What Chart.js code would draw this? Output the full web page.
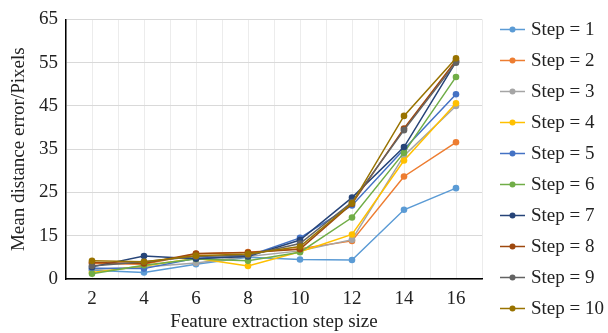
<!DOCTYPE html>
<html>
<head>
<meta charset="utf-8">
<script src="https://cdn.jsdelivr.net/npm/chart.js@4/dist/chart.umd.min.js"></script>
<style>
  html, body { margin: 0; padding: 0; background: #fff; }
  #wrap { width: 608px; height: 333px; position: relative; }
</style>
</head>
<body>
<div id="wrap"><canvas id="chart-steps"></canvas></div>
<script>
// Feature extraction step size (x) and tick values
var stepSizes = [2, 4, 6, 8, 10, 12, 14, 16];
var yTicks = [5, 15, 25, 35, 45, 55, 65];

// Mean distance error per series
var step1  = [7.0, 6.5, 8.4, 10.0, 9.5, 9.4, 21.0, 26.0];
var step2  = [8.6, 8.4, 10.8, 11.2, 12.0, 13.8, 28.7, 36.6];
var step3  = [7.2, 7.8, 8.7, 10.2, 11.5, 14.1, 33.5, 45.0];
var step4  = [6.5, 8.0, 9.8, 8.0, 11.3, 15.3, 32.4, 45.6];
var step5  = [7.5, 7.4, 9.8, 10.3, 14.5, 22.0, 35.0, 47.7];
var step6  = [6.2, 8.2, 9.6, 9.2, 11.2, 19.2, 34.2, 51.7];
var step7  = [7.8, 10.3, 9.7, 10.2, 14.0, 23.8, 35.5, 55.2];
var step8  = [8.8, 8.6, 10.9, 11.1, 11.9, 22.4, 39.8, 55.5];
var step9  = [8.0, 9.0, 10.2, 10.5, 13.2, 22.8, 39.4, 55.0];
var step10 = [9.2, 9.0, 10.4, 10.8, 12.5, 22.5, 42.7, 56.0];

var seriesNames = ['Step = 1', 'Step = 2', 'Step = 3', 'Step = 4', 'Step = 5',
                   'Step = 6', 'Step = 7', 'Step = 8', 'Step = 9', 'Step = 10'];
var seriesValues = [step1, step2, step3, step4, step5, step6, step7, step8, step9, step10];
var seriesColors = ['#5B9BD5', '#ED7D31', '#A5A5A5', '#FFC000', '#4472C4',
                    '#70AD47', '#264478', '#9E480E', '#636363', '#997300'];

var FONT = '"Liberation Serif", "Times New Roman", serif';

var datasets = seriesValues.map(function (vals, i) {
    return {
        label: seriesNames[i],
        data: vals.map(function (v, j) { return { x: stepSizes[j], y: v }; }),
        borderColor: seriesColors[i],
        backgroundColor: seriesColors[i],
        borderWidth: 1.5,
        pointRadius: 3.3,
        pointBorderWidth: 0,
        tension: 0,
        order: seriesValues.length - i // later series drawn on top
    };
});

// legend drawn as line + marker, like the original
var stepLegend = {
    id: 'stepLegend',
    afterDraw: function (chart) {
        var ctx = chart.ctx;
        ctx.save();
        ctx.font = '19px ' + FONT;
        ctx.textBaseline = 'middle';
        chart.data.datasets.forEach(function (ds, i) {
            var y = 29.5 + i * 31;
            ctx.strokeStyle = ds.borderColor;
            ctx.lineWidth = 1.5;
            ctx.beginPath();
            ctx.moveTo(500, y);
            ctx.lineTo(525, y);
            ctx.stroke();
            ctx.fillStyle = ds.borderColor;
            ctx.beginPath();
            ctx.arc(512.5, y, 3, 0, Math.PI * 2);
            ctx.fill();
            ctx.fillStyle = '#222';
            ctx.fillText(ds.label, 531, y + 1);
        });
        ctx.restore();
    }
};

var ctx = document.getElementById('chart-steps').getContext('2d');
var myChart = new Chart(ctx, {
    type: 'line',
    data: { datasets: datasets },
    plugins: [stepLegend],
    options: {
        responsive: true,
        maintainAspectRatio: false,
        animation: false,
        layout: { padding: { top: 18, right: 126, left: 0, bottom: 0 } },
        plugins: {
            legend: { display: false },
            tooltip: { enabled: false }
        },
        scales: {
            x: {
                type: 'linear',
                min: 1,
                max: 17,
                afterFit: function (scale) { scale.height = 54; },
                ticks: {
                    stepSize: 1,
                    autoSkip: false,
                    maxRotation: 0,
                    color: '#222',
                    font: { family: FONT, size: 19 },
                    padding: 9,
                    callback: function (v) { return v % 2 === 0 ? v : ''; }
                },
                grid: { color: '#ececec', lineWidth: 1, drawTicks: false },
                border: { color: '#000', width: 1.5 },
                title: {
                    display: true,
                    text: 'Feature extraction step size',
                    color: '#222',
                    font: { family: FONT, size: 19 },
                    padding: { top: 0, bottom: 0 }
                }
            },
            y: {
                min: 5,
                max: 65,
                afterFit: function (scale) { scale.width = 66; },
                afterBuildTicks: function (scale) {
                    scale.ticks = yTicks.map(function (v) { return { value: v }; });
                },
                ticks: {
                    color: '#222',
                    font: { family: FONT, size: 19 },
                    padding: 8,
                    callback: function (v) { return v === 5 ? '0' : v; }
                },
                grid: { color: '#d9d9d9', lineWidth: 1, drawTicks: false },
                border: { color: '#000', width: 1.5 },
                title: {
                    display: true,
                    text: 'Mean distance error/Pixels',
                    color: '#222',
                    font: { family: FONT, size: 19 },
                    padding: { top: 8, bottom: 0 }
                }
            }
        }
    }
});
</script>
</body>
</html>
